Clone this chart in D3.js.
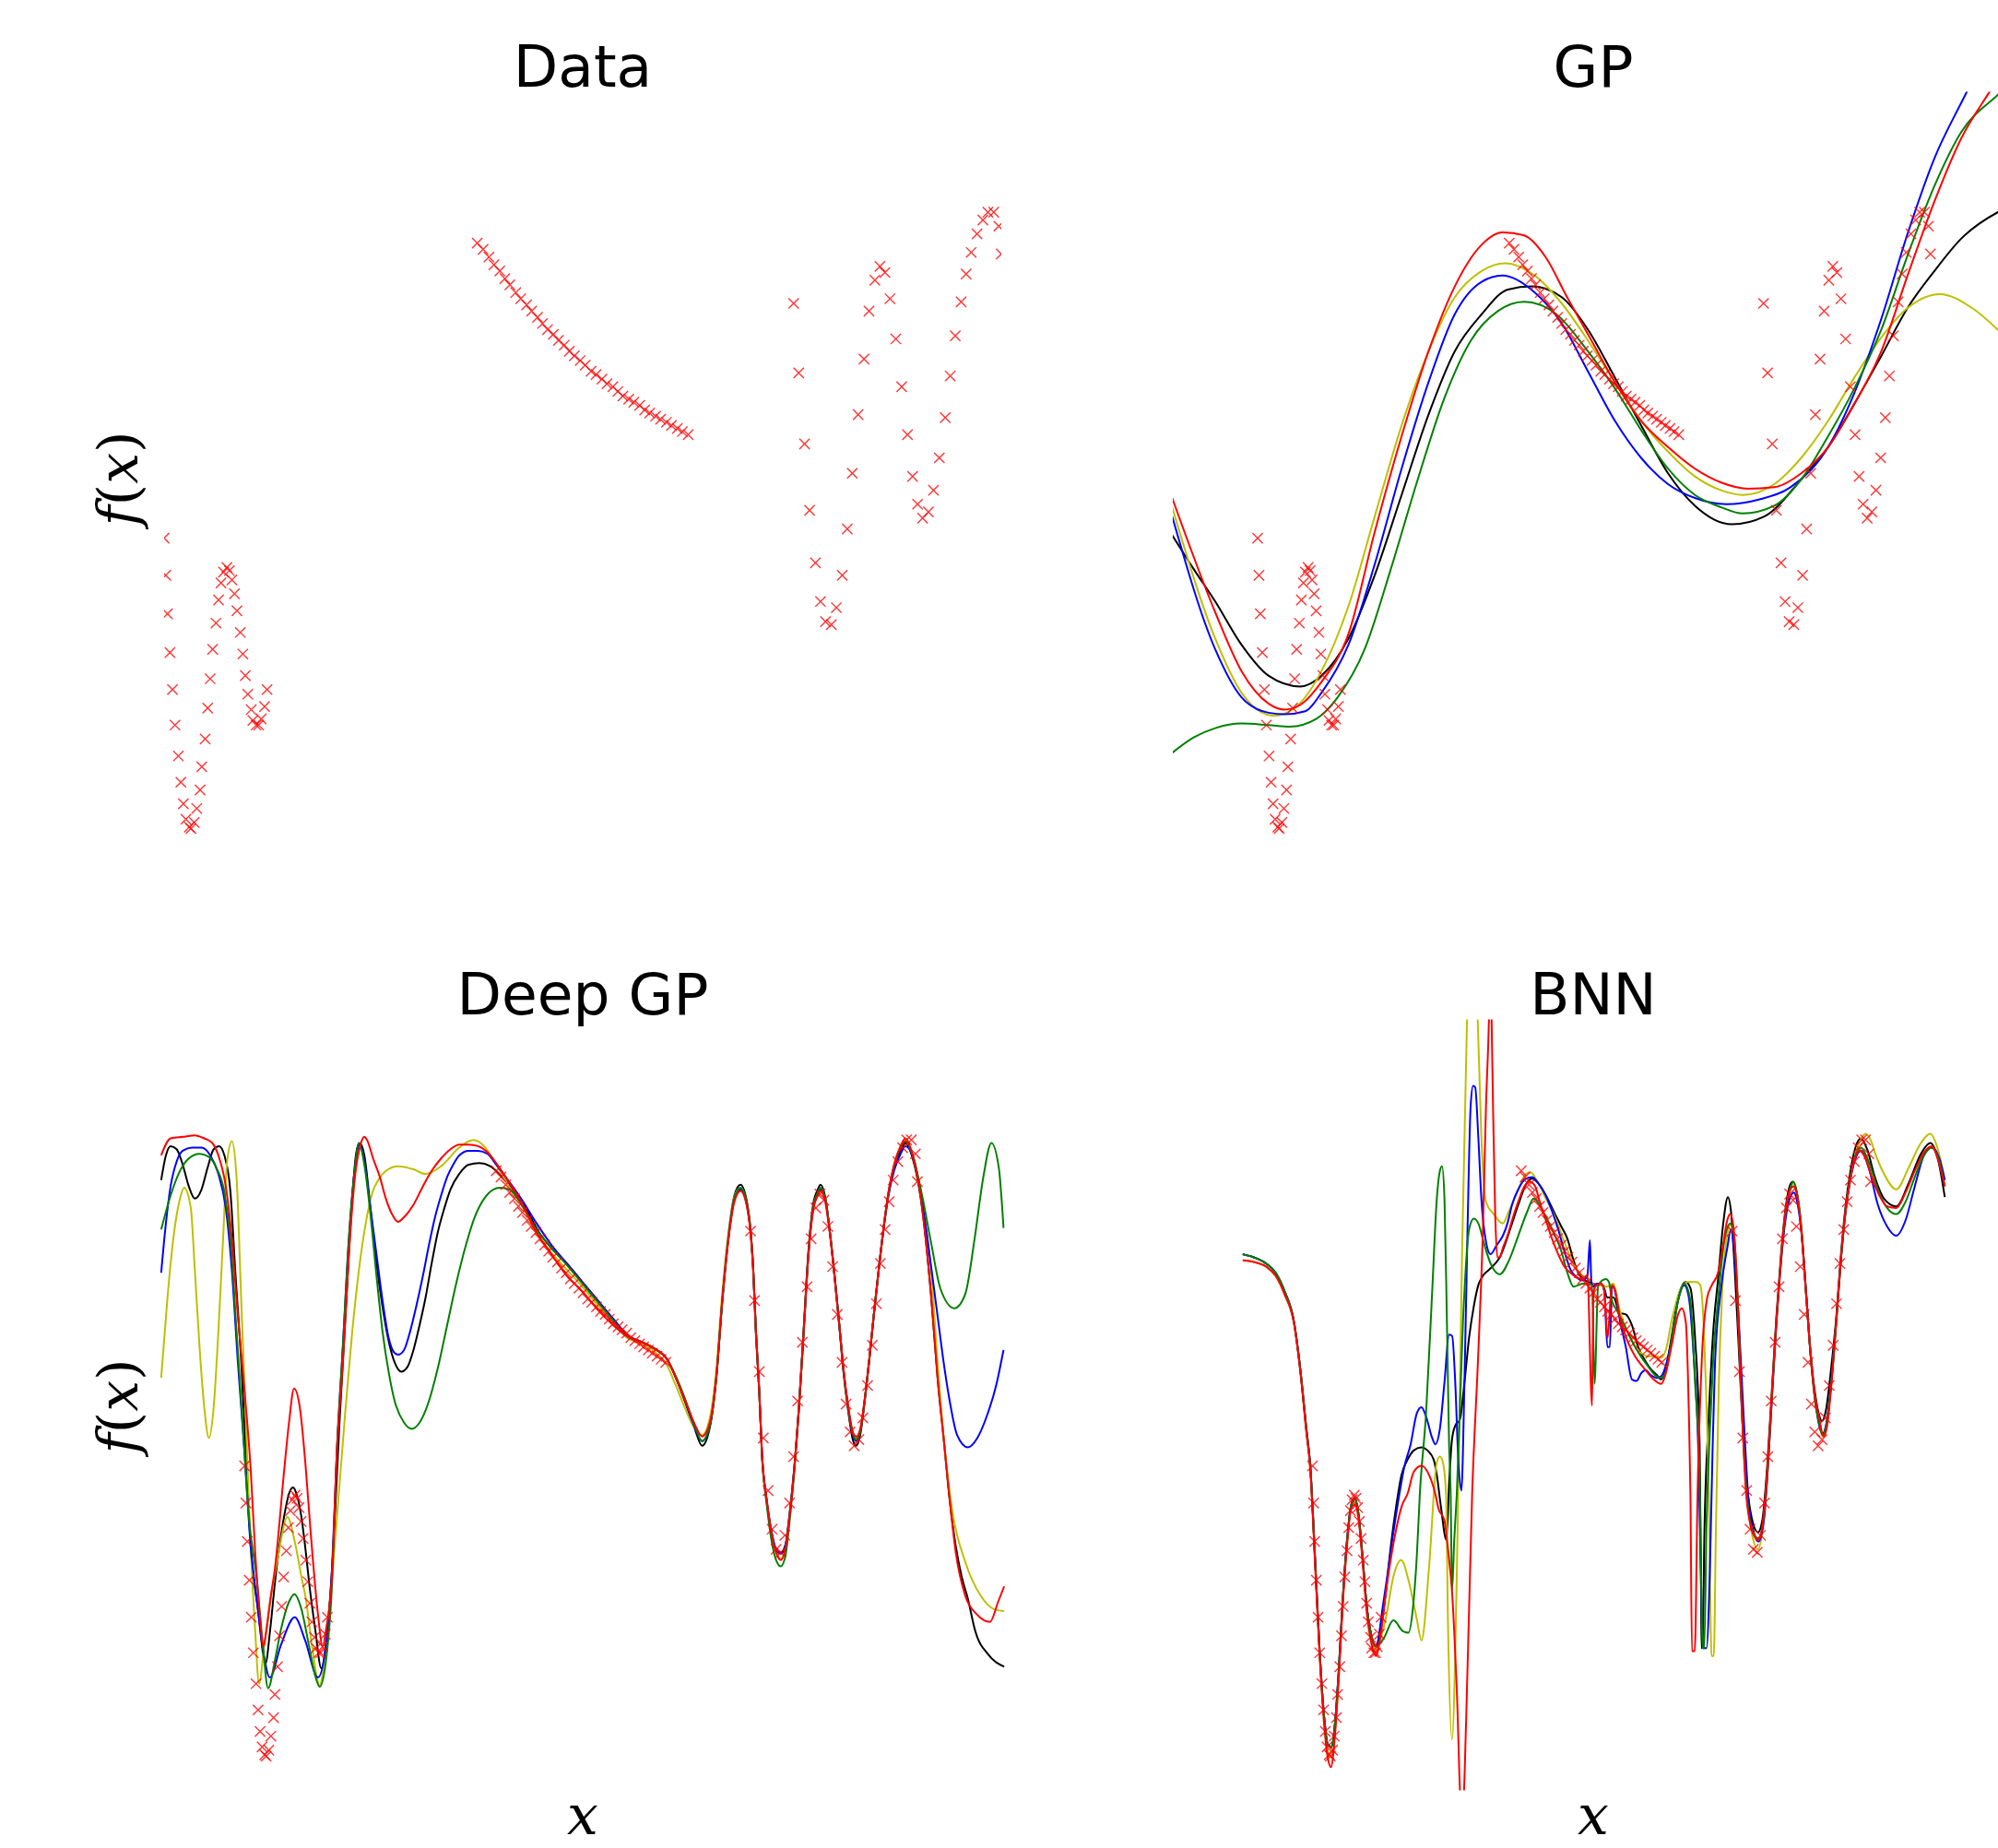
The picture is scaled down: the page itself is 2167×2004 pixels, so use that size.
<!DOCTYPE html>
<html>
<head>
<meta charset="utf-8">
<script src="https://cdn.jsdelivr.net/npm/d3@7"></script>
<style>
  html, body { margin: 0; padding: 0; background: #fff; }
  svg { display: block; }
</style>
</head>
<body>
<svg id="chart" width="2167" height="2004"></svg>
<script>
// x runs over [0, 10] for the data, f(x) over [-2, 2]

// ---- observed data (red crosses) ----
const dataLeft = [[0.00,-0.12],[0.02,-0.36],[0.04,-0.61],[0.07,-0.86],[0.10,-1.10],[0.13,-1.33],[0.17,-1.53],[0.20,-1.70],[0.23,-1.84],[0.26,-1.94],[0.30,-1.99],[0.32,-2.00],[0.36,-1.96],[0.39,-1.87],[0.43,-1.75],[0.45,-1.60],[0.49,-1.42],[0.52,-1.22],[0.55,-1.03],[0.58,-0.84],[0.62,-0.67],[0.65,-0.52],[0.68,-0.41],[0.71,-0.34],[0.75,-0.31],[0.78,-0.33],[0.81,-0.39],[0.84,-0.48],[0.87,-0.59],[0.91,-0.73],[0.94,-0.87],[0.97,-1.01],[1.00,-1.13],[1.04,-1.23],[1.06,-1.30],[1.10,-1.33],[1.13,-1.33],[1.16,-1.29],[1.20,-1.21],[1.23,-1.10]];
const dataMiddle = [[3.74,1.79],[3.81,1.75],[3.88,1.70],[3.94,1.65],[4.01,1.61],[4.07,1.56],[4.13,1.52],[4.20,1.47],[4.26,1.43],[4.33,1.39],[4.39,1.35],[4.46,1.31],[4.52,1.27],[4.58,1.23],[4.65,1.20],[4.71,1.16],[4.78,1.13],[4.84,1.09],[4.90,1.06],[4.97,1.03],[5.03,1.00],[5.10,0.96],[5.16,0.94],[5.23,0.91],[5.29,0.88],[5.36,0.86],[5.42,0.83],[5.48,0.80],[5.55,0.78],[5.61,0.76],[5.68,0.74],[5.74,0.71],[5.80,0.69],[5.87,0.67],[5.93,0.65],[6.00,0.63],[6.06,0.61],[6.13,0.59],[6.19,0.57],[6.26,0.55]];
const dataRight = [[7.52,1.40],[7.58,0.95],[7.65,0.49],[7.71,0.06],[7.78,-0.28],[7.84,-0.53],[7.90,-0.66],[7.97,-0.68],[8.03,-0.57],[8.10,-0.36],[8.16,-0.06],[8.22,0.30],[8.29,0.68],[8.36,1.04],[8.42,1.35],[8.49,1.55],[8.55,1.64],[8.61,1.60],[8.67,1.43],[8.74,1.17],[8.81,0.86],[8.88,0.55],[8.94,0.28],[9.00,0.10],[9.06,0.01],[9.13,0.05],[9.19,0.19],[9.26,0.40],[9.33,0.66],[9.39,0.93],[9.45,1.19],[9.52,1.41],[9.58,1.59],[9.64,1.73],[9.71,1.85],[9.78,1.94],[9.84,1.99],[9.91,1.99],[9.97,1.90],[10.00,1.72]];

// ---- GP samples ----
const gpRed = [[-1.27,0.14],[-0.63,-0.60],[-0.24,-0.98],[0.16,-1.19],[0.40,-1.23],[0.63,-1.20],[0.95,-1.05],[1.35,-0.74],[1.74,-0.08],[2.14,0.54],[2.54,1.09],[2.93,1.51],[3.33,1.78],[3.64,1.86],[3.96,1.84],[4.28,1.70],[4.60,1.44],[4.91,1.20],[5.31,0.89],[5.70,0.64],[6.10,0.47],[6.50,0.33],[6.89,0.24],[7.29,0.20],[7.68,0.21],[8.08,0.30],[8.48,0.47],[8.87,0.75],[9.27,1.09],[9.66,1.58],[10.06,2.06],[10.46,2.47],[10.85,2.75],[11.00,2.85],[11.25,2.98]];
const gpYellow = [[-1.27,0.08],[-0.63,-0.77],[-0.24,-1.12],[0.24,-1.27],[0.55,-1.22],[0.95,-0.98],[1.35,-0.56],[1.74,0.02],[2.14,0.61],[2.54,1.09],[2.93,1.44],[3.33,1.61],[3.68,1.66],[4.12,1.58],[4.52,1.40],[4.91,1.16],[5.31,0.89],[5.70,0.64],[6.10,0.44],[6.50,0.28],[6.89,0.19],[7.21,0.16],[7.68,0.23],[8.08,0.40],[8.48,0.64],[8.87,0.92],[9.27,1.18],[9.66,1.37],[10.14,1.46],[10.62,1.37],[11.00,1.23],[11.25,1.12]];
const gpBlue = [[-1.27,0.02],[-0.63,-0.84],[-0.24,-1.15],[0.16,-1.25],[0.40,-1.26],[0.71,-1.24],[0.95,-1.12],[1.35,-0.81],[1.74,-0.29],[2.14,0.33],[2.54,0.89],[2.93,1.33],[3.33,1.54],[3.64,1.58],[4.12,1.47],[4.52,1.27],[4.91,0.96],[5.31,0.64],[5.70,0.40],[6.10,0.23],[6.50,0.14],[6.97,0.10],[7.45,0.13],[7.92,0.21],[8.48,0.47],[8.87,0.82],[9.27,1.30],[9.66,1.85],[10.06,2.34],[10.46,2.70],[10.65,2.86],[10.85,3.00]];
const gpBlack = [[-1.27,-0.10],[-0.95,-0.32],[-0.63,-0.53],[-0.24,-0.81],[0.16,-1.01],[0.63,-1.08],[0.95,-1.01],[1.35,-0.77],[1.74,-0.36],[2.14,0.16],[2.54,0.68],[2.93,1.09],[3.33,1.33],[3.72,1.49],[4.08,1.51],[4.52,1.44],[4.91,1.23],[5.31,0.92],[5.70,0.61],[6.10,0.30],[6.50,0.09],[7.05,-0.03],[7.53,0.02],[8.08,0.26],[8.48,0.47],[8.87,0.75],[9.27,1.06],[9.66,1.37],[10.06,1.61],[10.46,1.82],[11.00,1.99],[11.25,2.04]];
const gpGreen = [[-1.27,-1.51],[-0.95,-1.41],[-0.63,-1.35],[-0.24,-1.32],[0.16,-1.33],[0.48,-1.34],[0.87,-1.29],[1.19,-1.15],[1.59,-0.84],[1.98,-0.32],[2.38,0.26],[2.77,0.78],[3.17,1.16],[3.57,1.35],[3.96,1.41],[4.44,1.33],[4.91,1.09],[5.31,0.85],[5.70,0.58],[6.10,0.33],[6.50,0.16],[6.89,0.08],[7.21,0.04],[7.68,0.09],[8.08,0.26],[8.48,0.54],[8.87,0.85],[9.27,1.23],[9.66,1.71],[10.06,2.16],[10.46,2.51],[11.00,2.75],[11.25,2.85]];

// ---- Deep GP samples: left part, shared x for the right cluster, tails ----
const dgpRedLeft = [[-1.24,1.89],[-1.10,2.00],[-0.92,2.01],[-0.74,2.02],[-0.60,2.00],[-0.48,1.97],[-0.39,1.89],[-0.28,1.69],[-0.19,1.35],[-0.10,0.85],[0.00,0.36],[0.09,-0.14],[0.16,-0.70],[0.225,-1.08],[0.28,-1.29],[0.325,-1.18],[0.384,-0.98],[0.452,-0.78],[0.59,-0.14],[0.66,0.16],[0.735,0.38],[0.82,0.26],[0.91,-0.14],[0.98,-0.54],[1.09,-1.08],[1.16,-1.29],[1.21,-1.18],[1.30,-0.82],[1.37,-0.04],[1.46,0.55],[1.55,1.25],[1.64,1.75],[1.73,1.97],[1.78,2.01],[1.82,1.99],[1.91,1.87],[2.01,1.75],[2.10,1.61],[2.19,1.51],[2.28,1.46],[2.37,1.49],[2.51,1.57],[2.65,1.69],[2.78,1.79],[2.92,1.87],[3.06,1.93],[3.19,1.96],[3.33,1.96],[3.47,1.95],[3.61,1.91],[3.74,1.84],[3.88,1.75],[4.11,1.59],[4.34,1.39],[4.56,1.25],[4.79,1.11],[5.02,1.01],[5.25,0.89],[5.48,0.79]];
const dgpBlackLeft = [[-1.24,1.73],[-1.17,1.89],[-1.10,1.95],[-1.01,1.93],[-0.92,1.83],[-0.83,1.69],[-0.74,1.61],[-0.64,1.67],[-0.55,1.81],[-0.46,1.93],[-0.38,1.95],[-0.30,1.89],[-0.21,1.65],[-0.14,1.15],[-0.05,0.55],[0.02,-0.04],[0.09,-0.64],[0.20,-1.05],[0.31,-1.40],[0.38,-1.18],[0.45,-0.88],[0.59,-0.44],[0.66,-0.30],[0.72,-0.26],[0.77,-0.30],[0.84,-0.44],[0.91,-0.68],[0.96,-0.88],[1.05,-1.18],[1.14,-1.43],[1.23,-1.18],[1.32,-0.64],[1.41,0.16],[1.50,0.85],[1.59,1.55],[1.66,1.91],[1.71,1.97],[1.78,1.89],[1.87,1.55],[1.96,1.19],[2.05,0.91],[2.14,0.69],[2.23,0.55],[2.33,0.49],[2.42,0.52],[2.51,0.63],[2.60,0.79],[2.69,0.97],[2.78,1.19],[2.87,1.39],[2.97,1.55],[3.06,1.67],[3.19,1.77],[3.33,1.83],[3.49,1.84],[3.65,1.82],[3.83,1.75],[4.02,1.65],[4.20,1.53],[4.38,1.39],[4.56,1.29],[4.79,1.19],[5.02,1.07],[5.25,0.95],[5.48,0.83]];
const dgpBlueLeft = [[-1.24,1.13],[-1.17,1.45],[-1.10,1.69],[-1.01,1.85],[-0.92,1.92],[-0.78,1.94],[-0.64,1.94],[-0.51,1.89],[-0.39,1.77],[-0.28,1.55],[-0.19,1.15],[-0.10,0.55],[0.00,-0.04],[0.09,-0.64],[0.17,-0.95],[0.27,-1.30],[0.375,-1.49],[0.54,-1.28],[0.746,-1.10],[0.90,-1.25],[1.09,-1.49],[1.21,-1.28],[1.30,-0.78],[1.37,-0.04],[1.46,0.65],[1.55,1.35],[1.64,1.81],[1.71,1.96],[1.78,1.85],[1.87,1.55],[1.96,1.25],[2.05,0.95],[2.14,0.71],[2.23,0.61],[2.28,0.60],[2.37,0.63],[2.46,0.75],[2.55,0.91],[2.65,1.11],[2.74,1.31],[2.83,1.49],[2.92,1.63],[3.01,1.75],[3.10,1.83],[3.19,1.89],[3.33,1.92],[3.47,1.92],[3.61,1.90],[3.74,1.83],[3.88,1.75],[4.11,1.61],[4.34,1.45],[4.56,1.31],[4.79,1.19],[5.02,1.07],[5.25,0.95],[5.48,0.83]];
const dgpGreenLeft = [[-1.24,1.41],[-1.10,1.63],[-0.96,1.79],[-0.83,1.87],[-0.67,1.90],[-0.53,1.88],[-0.42,1.81],[-0.30,1.65],[-0.21,1.35],[-0.12,0.75],[-0.03,0.16],[0.06,-0.44],[0.18,-0.85],[0.27,-1.28],[0.35,-1.56],[0.45,-1.38],[0.54,-1.18],[0.66,-1.00],[0.74,-0.95],[0.84,-1.04],[0.955,-1.28],[1.05,-1.48],[1.115,-1.55],[1.21,-1.38],[1.30,-0.88],[1.37,-0.04],[1.46,0.65],[1.55,1.35],[1.64,1.81],[1.695,1.97],[1.78,1.83],[1.87,1.51],[1.96,1.11],[2.05,0.75],[2.14,0.49],[2.23,0.30],[2.37,0.16],[2.485,0.12],[2.60,0.16],[2.74,0.30],[2.87,0.51],[3.01,0.79],[3.15,1.07],[3.29,1.31],[3.42,1.49],[3.56,1.61],[3.70,1.67],[3.79,1.68],[3.93,1.67],[4.06,1.61],[4.20,1.51],[4.34,1.41],[4.56,1.29],[4.79,1.18],[5.02,1.06],[5.25,0.94],[5.48,0.82]];
const dgpYellowLeft = [[-1.24,0.45],[-1.15,0.95],[-1.06,1.35],[-0.96,1.61],[-0.90,1.68],[-0.80,1.55],[-0.74,1.15],[-0.67,0.65],[-0.60,0.26],[-0.53,0.06],[-0.46,0.26],[-0.39,0.75],[-0.32,1.35],[-0.26,1.85],[-0.19,1.98],[-0.12,1.75],[-0.05,0.95],[0.02,0.16],[0.09,-0.64],[0.156,-1.18],[0.215,-1.53],[0.293,-1.28],[0.38,-1.00],[0.50,-0.70],[0.635,-0.45],[0.75,-0.62],[0.85,-0.85],[0.91,-0.98],[1.00,-1.28],[1.115,-1.54],[1.23,-1.18],[1.30,-0.85],[1.40,-0.30],[1.50,0.25],[1.60,0.75],[1.70,1.15],[1.80,1.45],[1.90,1.65],[2.00,1.74],[2.10,1.79],[2.28,1.82],[2.51,1.80],[2.69,1.77],[2.92,1.82],[3.19,1.94],[3.40,1.99],[3.56,1.95],[3.74,1.83],[3.93,1.69],[4.11,1.57],[4.34,1.39],[4.56,1.26],[4.79,1.15],[5.02,1.04],[5.25,0.92],[5.48,0.81]];

const dgpRightX = [5.68,5.91,6.09,6.28,6.41,6.55,6.69,6.80,6.92,7.01,7.10,7.19,7.28,7.37,7.47,7.56,7.60,7.65,7.69,7.76,7.83,7.90,7.97,8.04,8.10,8.17,8.24,8.31,8.38,8.45,8.52,8.56,8.63,8.70,8.77,8.84,8.90,8.97,9.04,9.09,9.15,9.22,9.29,9.36,9.43,9.50,9.57,9.66,9.75,9.82];
const dgpRedRightY = [0.72,0.68,0.64,0.57,0.45,0.30,0.15,0.07,0.17,0.45,0.95,1.34,1.59,1.66,1.55,1.14,0.75,0.36,-0.04,-0.34,-0.55,-0.68,-0.73,-0.65,-0.45,-0.14,0.26,0.75,1.24,1.53,1.63,1.66,1.59,1.38,1.10,0.79,0.51,0.27,0.10,0.07,0.12,0.32,0.59,0.89,1.17,1.43,1.65,1.84,1.95,2.00];
const dgpBlackRightY = [0.73,0.68,0.64,0.57,0.45,0.29,0.12,0.01,0.14,0.45,0.96,1.37,1.63,1.70,1.58,1.15,0.74,0.35,-0.05,-0.35,-0.55,-0.66,-0.68,-0.63,-0.43,-0.13,0.27,0.77,1.27,1.57,1.67,1.70,1.62,1.39,1.10,0.78,0.49,0.24,0.05,0.01,0.08,0.31,0.59,0.89,1.17,1.43,1.64,1.82,1.92,1.97];
const dgpBlueRightY = [0.73,0.68,0.64,0.57,0.45,0.30,0.13,0.04,0.15,0.45,0.95,1.35,1.61,1.67,1.56,1.15,0.75,0.36,-0.04,-0.34,-0.54,-0.66,-0.69,-0.63,-0.44,-0.14,0.26,0.75,1.25,1.55,1.64,1.67,1.61,1.39,1.11,0.79,0.51,0.26,0.08,0.04,0.10,0.32,0.59,0.89,1.17,1.42,1.63,1.80,1.90,1.95];
const dgpGreenRightY = [0.72,0.68,0.64,0.57,0.46,0.31,0.14,0.04,0.15,0.44,0.94,1.35,1.61,1.68,1.57,1.16,0.76,0.36,-0.05,-0.37,-0.60,-0.73,-0.77,-0.70,-0.48,-0.16,0.25,0.75,1.25,1.55,1.65,1.68,1.61,1.39,1.11,0.79,0.51,0.26,0.09,0.05,0.10,0.32,0.59,0.89,1.17,1.43,1.65,1.83,1.94,1.98];
const dgpYellowRightY = [0.71,0.67,0.62,0.53,0.40,0.25,0.12,0.08,0.20,0.50,1.00,1.38,1.62,1.68,1.56,1.14,0.74,0.35,-0.05,-0.35,-0.55,-0.68,-0.72,-0.64,-0.44,-0.14,0.26,0.75,1.25,1.55,1.64,1.67,1.61,1.39,1.11,0.79,0.51,0.26,0.09,0.06,0.11,0.32,0.59,0.89,1.17,1.43,1.65,1.84,1.95,1.99];

const dgpRedTail = [[9.93,1.89],[10.07,1.55],[10.21,0.95],[10.30,0.45],[10.39,0.06],[10.48,-0.34],[10.57,-0.68],[10.71,-0.96],[10.88,-1.08],[11.08,-1.13],[11.20,-1.00],[11.29,-0.90]];
const dgpBlackTail = [[9.93,1.87],[10.07,1.55],[10.21,0.95],[10.30,0.45],[10.39,0.06],[10.48,-0.34],[10.57,-0.64],[10.66,-0.84],[10.75,-0.98],[10.86,-1.19],[11.05,-1.34],[11.29,-1.42]];
const dgpBlueTail = [[9.93,1.89],[10.07,1.59],[10.21,1.15],[10.30,0.85],[10.39,0.55],[10.48,0.30],[10.59,0.08],[10.75,0.00],[10.89,0.06],[11.03,0.20],[11.17,0.40],[11.28,0.63]];
const dgpGreenTail = [[9.93,1.89],[10.07,1.63],[10.21,1.31],[10.34,1.03],[10.55,0.90],[10.71,0.99],[10.85,1.35],[10.98,1.75],[11.10,1.97],[11.21,1.81],[11.28,1.42]];
const dgpYellowTail = [[9.93,1.89],[10.07,1.59],[10.21,1.11],[10.30,0.55],[10.39,0.06],[10.53,-0.44],[10.71,-0.74],[10.94,-0.96],[11.15,-1.05],[11.29,-1.06]];

// ---- BNN samples ----
const bnnLeftArc = [[-1.25,1.25],[-1.05,1.23],[-0.83,1.19],[-0.66,1.13],[-0.50,1.01],[-0.33,0.81],[-0.22,0.51],[-0.11,0.12],[-0.04,-0.12],[0.05,-0.75],[0.13,-1.33],[0.21,-1.75],[0.27,-1.92],[0.34,-1.94],[0.40,-1.80],[0.47,-1.45],[0.54,-1.00],[0.62,-0.60],[0.69,-0.38],[0.755,-0.33],[0.82,-0.42],[0.90,-0.72],[0.97,-1.02],[1.05,-1.21],[1.137,-1.29]];
const bnnBlackRest = [[1.22,-1.18],[1.318,-0.93],[1.41,-0.62],[1.50,-0.38],[1.594,-0.18],[1.704,-0.08],[1.814,-0.02],[1.952,0.00],[2.062,-0.02],[2.172,-0.08],[2.228,-0.18],[2.30,-0.38],[2.40,-0.60],[2.45,-0.22],[2.50,0.05],[2.558,0.14],[2.641,0.18],[2.723,0.42],[2.806,0.71],[2.889,0.91],[2.971,1.05],[3.054,1.11],[3.164,1.15],[3.274,1.19],[3.356,1.23],[3.466,1.33],[3.576,1.45],[3.687,1.57],[3.824,1.70],[3.935,1.74],[4.045,1.71],[4.182,1.63],[4.347,1.51],[4.458,1.43],[4.568,1.35],[4.678,1.21],[4.761,1.13],[4.843,1.09],[4.954,1.07],[5.119,1.05],[5.202,1.05],[5.284,0.97],[5.394,0.97],[5.504,0.87],[5.614,0.86],[5.724,0.79],[5.835,0.65],[5.945,0.57],[6.055,0.51],[6.165,0.47],[6.248,0.44],[6.331,0.51],[6.441,0.73],[6.551,0.97],[6.689,1.07],[6.772,1.03],[6.855,0.71],[6.937,0.02],[6.96,-0.80],[6.97,-1.30],[6.99,-1.30],[7.02,-0.60],[7.10,0.20],[7.18,0.75],[7.27,1.10],[7.36,1.45],[7.443,1.62],[7.498,1.53],[7.569,1.13],[7.64,0.63],[7.707,0.14],[7.79,-0.26],[7.872,-0.46],[7.982,-0.55],[8.065,-0.46],[8.148,-0.12],[8.23,0.36],[8.313,0.85],[8.396,1.25],[8.478,1.55],[8.56,1.70],[8.605,1.72],[8.671,1.66],[8.753,1.44],[8.836,1.04],[8.918,0.64],[9.001,0.36],[9.07,0.22],[9.13,0.17],[9.20,0.24],[9.29,0.50],[9.387,0.85],[9.47,1.25],[9.552,1.56],[9.635,1.78],[9.72,1.93],[9.828,2.00],[9.938,1.93],[10.076,1.75],[10.241,1.61],[10.461,1.56],[10.682,1.71],[10.902,1.90],[11.068,1.97],[11.205,1.87],[11.33,1.62]];
const bnnBlueRest = [[1.272,-1.00],[1.50,-0.43],[1.65,-0.12],[1.759,0.02],[1.869,0.22],[1.952,0.26],[2.035,0.20],[2.145,0.06],[2.200,0.02],[2.283,0.12],[2.365,0.42],[2.448,0.73],[2.503,0.72],[2.558,0.42],[2.613,-0.08],[2.668,-0.28],[2.723,0.42],[2.778,1.41],[2.834,2.21],[2.878,2.34],[2.916,2.33],[2.971,2.01],[3.026,1.61],[3.109,1.33],[3.191,1.25],[3.301,1.31],[3.411,1.37],[3.494,1.45],[3.576,1.57],[3.687,1.67],[3.824,1.74],[3.935,1.75],[4.045,1.71],[4.182,1.63],[4.292,1.53],[4.403,1.41],[4.513,1.27],[4.623,1.15],[4.733,1.10],[4.843,1.08],[4.926,1.11],[4.971,1.34],[4.998,1.07],[5.037,1.04],[5.092,1.06],[5.174,1.06],[5.229,1.01],[5.284,0.65],[5.328,0.65],[5.367,1.05],[5.422,1.01],[5.504,0.83],[5.614,0.65],[5.724,0.44],[5.807,0.43],[5.890,0.48],[5.972,0.50],[6.055,0.47],[6.165,0.45],[6.248,0.46],[6.331,0.53],[6.441,0.71],[6.551,0.95],[6.662,1.05],[6.744,0.97],[6.827,0.61],[6.910,0.02],[6.97,-1.00],[7.00,-1.30],[7.06,-1.30],[7.12,-0.80],[7.17,0.00],[7.211,0.53],[7.321,1.03],[7.432,1.29],[7.498,1.41],[7.569,1.21],[7.652,0.73],[7.734,0.14],[7.817,-0.36],[7.900,-0.54],[7.993,-0.61],[8.093,-0.46],[8.148,-0.20],[8.23,0.30],[8.313,0.80],[8.396,1.20],[8.478,1.48],[8.56,1.62],[8.627,1.65],[8.69,1.58],[8.77,1.36],[8.85,0.98],[8.93,0.58],[9.01,0.30],[9.08,0.14],[9.14,0.09],[9.21,0.16],[9.30,0.44],[9.39,0.84],[9.47,1.22],[9.55,1.52],[9.635,1.73],[9.72,1.86],[9.828,1.92],[9.966,1.81],[10.131,1.57],[10.296,1.43],[10.461,1.37],[10.627,1.47],[10.792,1.69],[10.957,1.89],[11.095,1.94],[11.233,1.87],[11.33,1.73]];
const bnnGreenRest = [[1.272,-1.24],[1.45,-1.12],[1.62,-1.19],[1.72,-1.20],[1.80,-1.04],[1.87,-0.70],[1.924,-0.30],[2.035,0.22],[2.145,1.01],[2.228,1.61],[2.283,1.79],[2.321,1.82],[2.365,1.61],[2.409,0.81],[2.448,0.02],[2.476,-0.30],[2.50,-0.93],[2.54,-0.60],[2.586,-0.30],[2.696,0.81],[2.806,1.41],[2.889,1.48],[2.971,1.45],[3.081,1.31],[3.191,1.19],[3.356,1.12],[3.521,1.21],[3.687,1.37],[3.852,1.53],[3.962,1.61],[4.127,1.53],[4.292,1.41],[4.458,1.27],[4.568,1.13],[4.678,1.04],[4.843,1.06],[5.009,1.05],[5.053,0.41],[5.119,1.05],[5.257,1.09],[5.312,1.07],[5.367,0.95],[5.449,0.89],[5.614,0.77],[5.780,0.65],[6.000,0.53],[6.165,0.46],[6.248,0.45],[6.331,0.49],[6.441,0.71],[6.551,0.95],[6.662,1.06],[6.772,0.95],[6.855,0.42],[6.937,-0.18],[6.97,-1.00],[6.99,-1.30],[7.02,-1.30],[7.06,-0.50],[7.12,0.10],[7.184,0.60],[7.266,0.95],[7.376,1.33],[7.487,1.45],[7.553,1.37],[7.624,0.93],[7.70,0.20],[7.78,-0.30],[7.87,-0.52],[7.99,-0.59],[8.08,-0.47],[8.15,-0.18],[8.23,0.32],[8.313,0.82],[8.396,1.22],[8.478,1.52],[8.56,1.68],[8.616,1.72],[8.68,1.65],[8.76,1.42],[8.84,1.02],[8.92,0.62],[9.00,0.32],[9.08,0.15],[9.14,0.08],[9.21,0.15],[9.30,0.43],[9.39,0.83],[9.47,1.22],[9.55,1.52],[9.635,1.74],[9.72,1.88],[9.828,1.94],[9.966,1.85],[10.131,1.67],[10.296,1.55],[10.461,1.51],[10.627,1.59],[10.792,1.75],[10.957,1.89],[11.095,1.94],[11.233,1.85],[11.33,1.69]];
const bnnRed = [[-1.25,1.21],[-1.05,1.20],[-0.83,1.17],[-0.66,1.11],[-0.50,0.99],[-0.33,0.80],[-0.22,0.50],[-0.11,0.10],[-0.04,-0.14],[0.05,-0.78],[0.13,-1.36],[0.21,-1.80],[0.27,-2.00],[0.33,-2.07],[0.40,-1.88],[0.47,-1.50],[0.54,-1.03],[0.62,-0.63],[0.69,-0.40],[0.755,-0.37],[0.82,-0.45],[0.90,-0.75],[0.97,-1.06],[1.05,-1.26],[1.137,-1.35],[1.22,-1.22],[1.318,-0.93],[1.50,-0.53],[1.60,-0.38],[1.704,-0.30],[1.814,-0.16],[1.952,-0.12],[2.090,-0.18],[2.200,-0.30],[2.26,-0.40],[2.362,-0.47],[2.44,-0.70],[2.50,-0.93],[2.589,-1.60],[2.66,-2.30],[2.70,-2.30],[2.753,-1.77],[2.861,-0.30],[2.971,0.61],[3.054,1.41],[3.109,2.21],[3.164,2.80],[3.19,3.30],[3.208,2.80],[3.235,2.21],[3.274,1.51],[3.312,1.23],[3.356,1.23],[3.411,1.29],[3.494,1.37],[3.576,1.47],[3.687,1.59],[3.797,1.69],[3.896,1.72],[3.990,1.69],[4.072,1.59],[4.182,1.47],[4.292,1.35],[4.403,1.25],[4.513,1.17],[4.623,1.13],[4.733,1.10],[4.843,1.09],[4.926,1.11],[5.009,0.27],[5.037,1.01],[5.092,1.05],[5.174,1.06],[5.229,1.01],[5.284,0.71],[5.367,1.05],[5.422,1.01],[5.504,0.85],[5.642,0.69],[5.780,0.59],[5.945,0.51],[6.110,0.44],[6.248,0.41],[6.331,0.48],[6.441,0.67],[6.551,0.86],[6.617,0.90],[6.689,0.81],[6.744,0.22],[6.772,-0.30],[6.80,-1.32],[6.85,-1.32],[6.90,-0.30],[6.98,0.60],[7.074,0.97],[7.156,1.05],[7.266,1.13],[7.349,1.29],[7.432,1.47],[7.487,1.51],[7.542,1.43],[7.597,1.13],[7.652,0.63],[7.707,0.14],[7.762,-0.26],[7.845,-0.50],[7.927,-0.58],[7.993,-0.60],[8.065,-0.50],[8.148,-0.16],[8.230,0.34],[8.313,0.83],[8.396,1.23],[8.478,1.53],[8.561,1.67],[8.616,1.69],[8.671,1.65],[8.753,1.43],[8.836,1.03],[8.918,0.63],[9.001,0.34],[9.084,0.18],[9.156,0.07],[9.222,0.14],[9.304,0.43],[9.387,0.83],[9.470,1.23],[9.552,1.53],[9.635,1.73],[9.718,1.87],[9.801,1.92],[9.911,1.87],[10.021,1.75],[10.158,1.63],[10.296,1.56],[10.461,1.55],[10.627,1.65],[10.792,1.79],[10.957,1.91],[11.095,1.95],[11.233,1.83],[11.33,1.69]];
const bnnYellow = [[-1.25,1.21],[-1.05,1.20],[-0.83,1.17],[-0.66,1.11],[-0.50,0.99],[-0.33,0.80],[-0.22,0.50],[-0.11,0.10],[-0.04,-0.13],[0.05,-0.77],[0.13,-1.35],[0.21,-1.77],[0.27,-1.96],[0.34,-2.01],[0.40,-1.85],[0.47,-1.48],[0.54,-1.02],[0.62,-0.62],[0.69,-0.39],[0.755,-0.34],[0.82,-0.43],[0.90,-0.73],[0.97,-1.04],[1.05,-1.23],[1.137,-1.31],[1.22,-1.24],[1.318,-1.10],[1.454,-0.83],[1.59,-0.73],[1.727,-0.87],[1.863,-1.10],[1.954,-1.25],[2.09,-0.77],[2.226,-0.10],[2.283,-0.06],[2.338,-0.10],[2.393,-0.30],[2.426,-1.10],[2.50,-1.89],[2.589,-0.77],[2.68,1.25],[2.75,2.45],[2.80,3.20],[2.87,3.50],[2.93,3.20],[2.96,2.77],[3.026,2.01],[3.109,1.59],[3.246,1.51],[3.411,1.45],[3.521,1.53],[3.687,1.67],[3.824,1.77],[3.907,1.78],[4.017,1.73],[4.182,1.61],[4.347,1.49],[4.513,1.33],[4.623,1.23],[4.733,1.15],[4.843,1.11],[4.954,1.09],[5.064,1.05],[5.174,1.05],[5.284,1.04],[5.394,1.06],[5.504,0.89],[5.669,0.73],[5.835,0.63],[6.000,0.59],[6.165,0.59],[6.248,0.58],[6.331,0.63],[6.441,0.83],[6.579,1.01],[6.717,1.07],[6.882,1.07],[6.948,1.05],[6.992,0.91],[7.047,0.42],[7.102,-0.30],[7.15,-1.35],[7.19,-1.35],[7.23,-0.50],[7.28,0.40],[7.34,1.00],[7.42,1.35],[7.49,1.44],[7.56,1.30],[7.63,0.85],[7.70,0.20],[7.78,-0.28],[7.87,-0.55],[7.98,-0.66],[8.07,-0.52],[8.15,-0.18],[8.23,0.32],[8.313,0.82],[8.396,1.22],[8.478,1.52],[8.56,1.67],[8.616,1.71],[8.68,1.64],[8.76,1.42],[8.84,1.02],[8.92,0.62],[9.00,0.32],[9.08,0.15],[9.14,0.07],[9.21,0.14],[9.30,0.43],[9.39,0.83],[9.47,1.22],[9.55,1.52],[9.64,1.75],[9.73,1.90],[9.82,1.99],[9.911,2.03],[10.0,1.99],[10.076,1.91],[10.241,1.77],[10.461,1.67],[10.682,1.81],[10.902,1.97],[11.068,2.03],[11.205,1.93],[11.33,1.73]];

// ---- drawing ----
const colors = { r: "#ff0000", g: "#008000", b: "#0000ff", y: "#bfbf00", k: "#000000" };
const allData = dataLeft.concat(dataMiddle, dataRight);

const svg = d3.select("#chart");
svg.append("rect").attr("width", 2167).attr("height", 2004).attr("fill", "#fff");

const yTop = d3.scaleLinear().domain([-2, 2]).range([898.5, 228.5]);
const yBottom = d3.scaleLinear().domain([-2, 2]).range([1904.5, 1234.5]);

const dgp = (left, ys, tail) => left.concat(d3.zip(dgpRightX, ys), tail);

const panels = [
  { id: "data", title: "Data", cx: 632, ty: 94, xr: [178, 1086], y: yTop,
    clip: [178, 99.5, 908, 836], lines: [] },
  { id: "gp", title: "GP", cx: 1728, ty: 94, xr: [1364, 2093.7], y: yTop,
    clip: [1272, 99.5, 900, 836],
    lines: [["k", gpBlack], ["y", gpYellow], ["b", gpBlue], ["g", gpGreen], ["r", gpRed]] },
  { id: "dgp", title: "Deep GP", cx: 632, ty: 1100, xr: [265.3, 995], y: yBottom,
    clip: [170, 1105.5, 925, 836],
    lines: [["k", dgp(dgpBlackLeft, dgpBlackRightY, dgpBlackTail)],
            ["y", dgp(dgpYellowLeft, dgpYellowRightY, dgpYellowTail)],
            ["b", dgp(dgpBlueLeft, dgpBlueRightY, dgpBlueTail)],
            ["g", dgp(dgpGreenLeft, dgpGreenRightY, dgpGreenTail)],
            ["r", dgp(dgpRedLeft, dgpRedRightY, dgpRedTail)]] },
  { id: "bnn", title: "BNN", cx: 1728, ty: 1100, xr: [1423.5, 2028.8], y: yBottom,
    clip: [1272, 1105.5, 900, 836],
    lines: [["k", bnnLeftArc.concat(bnnBlackRest)], ["y", bnnYellow],
            ["b", bnnLeftArc.concat(bnnBlueRest)], ["g", bnnLeftArc.concat(bnnGreenRest)],
            ["r", bnnRed]] }
];

const defs = svg.append("defs");

panels.forEach(p => {
  const x = d3.scaleLinear().domain([0, 10]).range(p.xr);
  const y = p.y;

  defs.append("clipPath").attr("id", "clip-" + p.id)
    .append("rect")
    .attr("x", p.clip[0]).attr("y", p.clip[1])
    .attr("width", p.clip[2]).attr("height", p.clip[3]);

  const g = svg.append("g").attr("clip-path", "url(#clip-" + p.id + ")");

  const line = d3.line()
    .x(d => x(d[0]))
    .y(d => y(d[1]))
    .curve(d3.curveMonotoneX);

  g.selectAll("path.series")
    .data(p.lines)
    .enter()
    .append("path")
    .attr("class", "series")
    .attr("d", d => line(d[1]))
    .attr("fill", "none")
    .attr("stroke", d => colors[d[0]])
    .attr("stroke-width", 2)
    .attr("stroke-linejoin", "round");

  const s = 5.6;
  g.selectAll("path.obs")
    .data(allData)
    .enter()
    .append("path")
    .attr("class", "obs")
    .attr("d", d => {
      const cx = x(d[0]), cy = y(d[1]);
      return `M${cx - s},${cy - s}L${cx + s},${cy + s}M${cx - s},${cy + s}L${cx + s},${cy - s}`;
    })
    .attr("fill", "none")
    .attr("stroke", "#ff0000")
    .attr("stroke-opacity", 0.8)
    .attr("stroke-width", 1.4);

  svg.append("text")
    .attr("x", p.cx).attr("y", p.ty)
    .attr("text-anchor", "middle")
    .attr("font-family", "DejaVu Sans")
    .attr("font-size", 63)
    .attr("fill", "#000")
    .text(p.title);
});

// axis labels
function mathLabel(sel, parts) {
  parts.forEach(([t, it]) => {
    sel.append("tspan").attr("font-style", it ? "italic" : "normal").text(t);
  });
}
[519, 1525].forEach(cy => {
  const t = svg.append("text")
    .attr("transform", `translate(149,${cy}) rotate(-90)`)
    .attr("text-anchor", "middle")
    .attr("font-family", "DejaVu Serif")
    .attr("font-size", 60)
    .attr("fill", "#000");
  mathLabel(t, [["f", true], ["(", false], ["x", true], [")", false]]);
});
[632, 1728].forEach(cx => {
  svg.append("text")
    .attr("x", cx).attr("y", 1989)
    .attr("text-anchor", "middle")
    .attr("font-family", "DejaVu Serif")
    .attr("font-style", "italic")
    .attr("font-size", 60)
    .attr("fill", "#000")
    .text("x");
});
</script>
</body>
</html>
